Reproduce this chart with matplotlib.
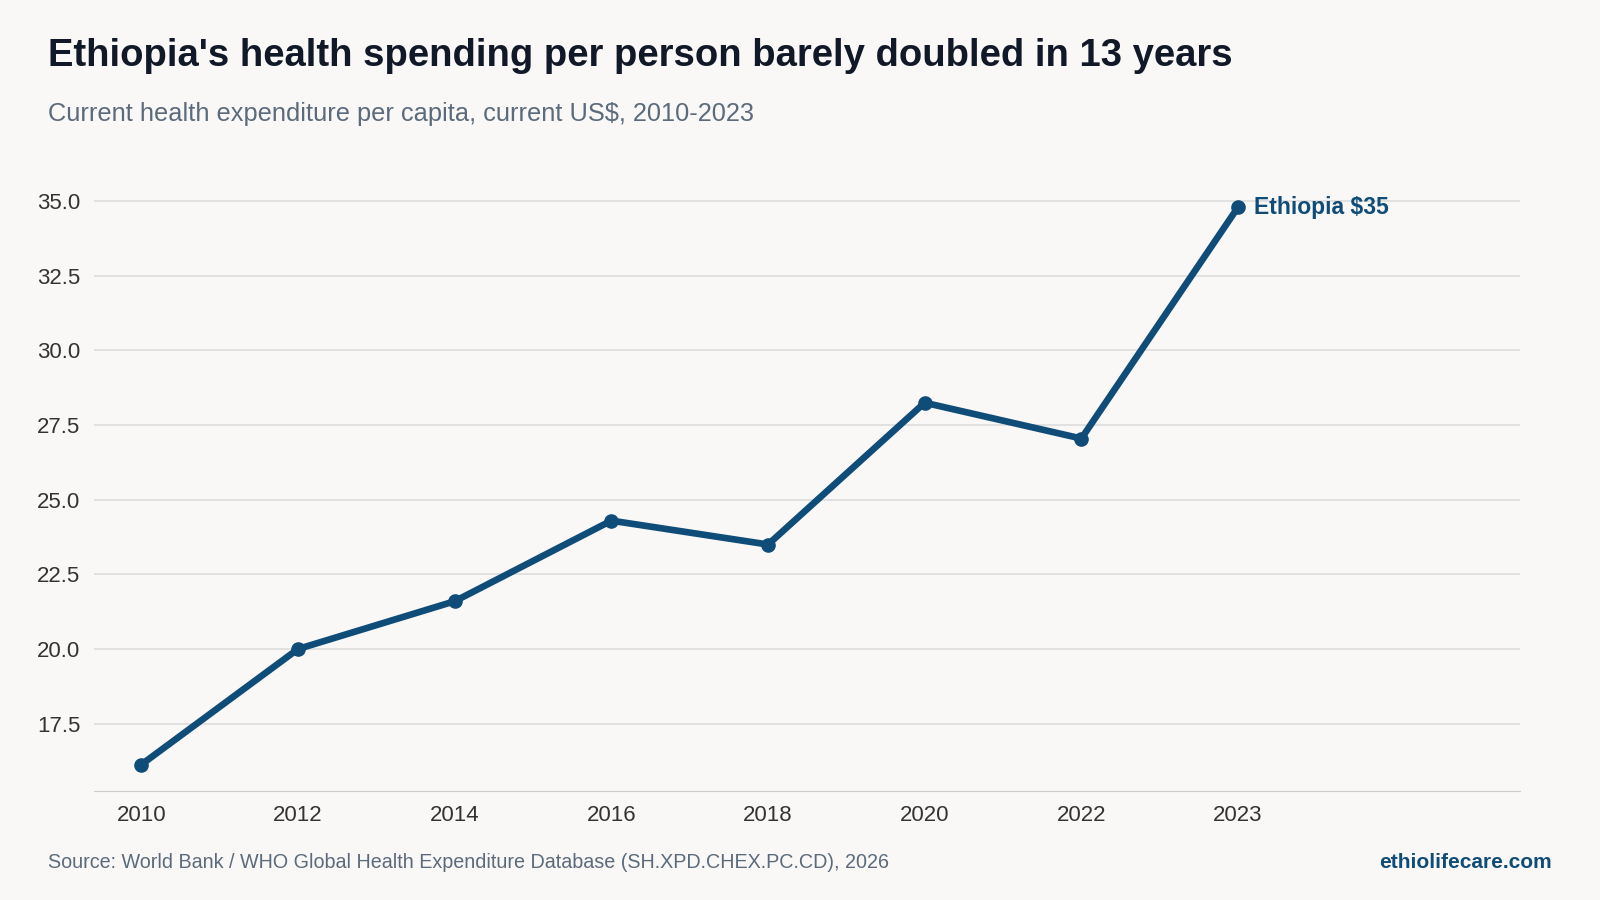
import matplotlib.pyplot as plt

plt.rcParams["font.family"] = ["Liberation Sans", "DejaVu Sans"]

years = ["2010", "2012", "2014", "2016", "2018", "2020", "2022", "2023"]
spend = [16.13, 20.0, 21.6, 24.3, 23.5, 28.25, 27.05, 34.8]
yticks = [17.5, 20.0, 22.5, 25.0, 27.5, 30.0, 32.5, 35.0]

bg = "#f9f8f7"
blue = "#0f4c78"

fig = plt.figure(figsize=(16, 9), dpi=100, facecolor=bg)
ax = fig.add_axes([0.059, 0.121, 0.891, 0.672], facecolor=bg)

x = list(range(len(years)))
ax.plot(x, spend, color=blue, lw=4.8, marker="o", ms=9.5, zorder=3)
ax.text(x[-1] + 0.1, spend[-1], f"Ethiopia ${spend[-1]:.0f}", color=blue,
        fontsize=16.5, fontweight="bold", va="center", ha="left")

ax.set_xlim(-0.3, 8.8)
ax.set_ylim(15.24, 35.5)
ax.set_xticks(x, years)
ax.set_yticks(yticks, [f"{v:.1f}" for v in yticks])
ax.grid(axis="y", color="#dddddd", lw=1.2)
ax.set_axisbelow(True)
for s in ["top", "right", "left"]:
    ax.spines[s].set_visible(False)
ax.spines["bottom"].set_color("#cccccc")
ax.tick_params(length=0, labelsize=16, colors="#333333", pad=10)

fig.text(0.03, 0.938, "Ethiopia's health spending per person barely doubled in 13 years",
         fontsize=27.5, fontweight="bold", color="#111827", va="center")
fig.text(0.03, 0.873, "Current health expenditure per capita, current US$, 2010-2023",
         fontsize=18.3, color="#5b6b7b", va="center")
fig.text(0.03, 0.042, "Source: World Bank / WHO Global Health Expenditure Database (SH.XPD.CHEX.PC.CD), 2026",
         fontsize=14.2, color="#5b6b7b", va="center")
fig.text(0.97, 0.042, "ethiolifecare.com", fontsize=15, fontweight="bold",
         color=blue, va="center", ha="right")

fig.savefig("out.png", dpi=100, facecolor=bg)
